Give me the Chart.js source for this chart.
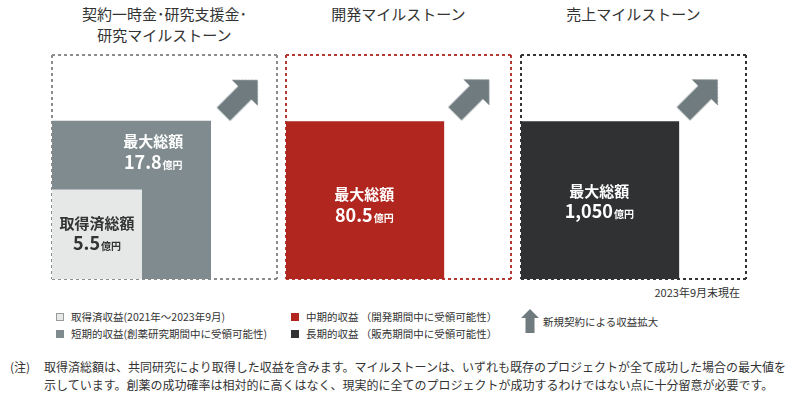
<!DOCTYPE html>
<html lang="ja">
<head>
<meta charset="utf-8">
<title>マイルストーン</title>
<script src="https://cdn.jsdelivr.net/npm/chart.js@4.4.1/dist/chart.umd.min.js"></script>
<style>
    body {
        margin: 0;
        width: 800px;
        height: 408px;
        position: relative;
        overflow: hidden;
        background: #fff;
        color: #333;
        font-family: "Noto Sans CJK JP", "Noto Sans", sans-serif;
    }
    .title {
        position: absolute;
        top: 4px;
        width: 260px;
        text-align: center;
        font-size: 15px;
        line-height: 20.5px;
    }
    .panel {
        position: absolute;
        top: 53px;
        width: 229px;
        height: 228px;
    }
    .asof {
        position: absolute;
        top: 285px;
        right: 60px;
        font-size: 11px;
        line-height: 14px;
    }
    .legend {
        position: absolute;
        font-size: 10.5px;
        line-height: 17px;
    }
    .legend .row { display: flex; align-items: center; white-space: nowrap; }
    .legend .sw { width: 8px; height: 8px; margin-right: 7px; box-sizing: border-box; }
    .note {
        position: absolute;
        left: 10px;
        top: 358px;
        font-size: 12px;
        line-height: 17.6px;
    }
    .note .mark { position: absolute; left: 0; top: 0; }
    .note .body { margin-left: 34px; width: 750px; }
</style>
</head>
<body>
<div id="titles"></div>
<div id="panels"></div>
<div class="asof" id="asof"></div>
<div id="legend"></div>
<div class="note">
    <span class="mark">(注)</span>
    <div class="body" id="note"></div>
</div>

<script>
// Data
const panelTitles = [
    ['契約一時金･研究支援金･', '研究マイルストーン'],
    ['開発マイルストーン'],
    ['売上マイルストーン']
];
const squareNames = ['最大総額', '取得済総額', '最大総額', '最大総額'];
const squareAmounts = ['17.8', '5.5', '80.5', '1,050'];
const squareUnit = '億円';
const squarePanel = [0, 0, 1, 2];
// side of each square as a share of its dashed frame (%), measured on the picture
const squareSides = [70.7, 40, 70.4, 70.4];
const legendLabels = [
    '取得済収益(2021年～2023年9月)',
    '短期的収益(創薬研究期間中に受領可能性)',
    '中期的収益 （開発期間中に受領可能性）',
    '長期的収益 （販売期間中に受領可能性）'
];
const arrowLabel = '新規契約による収益拡大';
const asOfLabel = '2023年9月末現在';
const noteText = '取得済総額は、共同研究により取得した収益を含みます。マイルストーンは、いずれも既存のプロジェクトが全て成功した場合の最大値を示しています。創薬の成功確率は相対的に高くはなく、現実的に全てのプロジェクトが成功するわけではない点に十分留意が必要です。';

// Styling / layout
const squareColors = ['#7f8b8e', '#e6e8e8', '#b1271f', '#2f3133'];
const squareTextColors = ['#fff', '#333', '#fff', '#fff'];
const legendColors = ['#e6e8e8', '#7f8b8e', '#b1271f', '#2f3133'];
const frameColors = ['#8c8c8c', '#b23a33', '#333333'];
const panelLeft = [50, 284, 519];
const arrowColor = '#6f7b7e';
// label anchor inside each square, in frame units
const labelAnchor = [[45, 56.6], [20, 20.3], [34.8, 33], [34.8, 34.6]];
// arrow centre inside each frame
const arrowSpot = [[83.8, 81.2], [82.7, 81.4], [79.8, 81.4]];

document.addEventListener('DOMContentLoaded', () => {
    buildText();
    buildLegend();
    const arrow = makeArrow(arrowColor);
    panelTitles.forEach((t, i) => buildPanel(i, arrow));
});

function buildText() {
    const titles = document.getElementById('titles');
    panelTitles.forEach((lines, i) => {
        const div = document.createElement('div');
        div.className = 'title';
        div.style.left = (panelLeft[i] + 2 + 112.5 - 130) + 'px';
        div.innerHTML = lines.join('<br>');
        titles.appendChild(div);
    });
    document.getElementById('asof').textContent = asOfLabel;
    document.getElementById('note').textContent = noteText;
}

function buildLegend() {
    const legend = document.getElementById('legend');
    const cols = [[0, 1], [2, 3]];
    const colLeft = [56, 291];
    cols.forEach((idx, c) => {
        const col = document.createElement('div');
        col.className = 'legend';
        col.style.left = colLeft[c] + 'px';
        col.style.top = '308px';
        col.innerHTML = idx.map(i => `
            <div class="row">
                <span class="sw" style="background:${legendColors[i]};${i === 0 ? 'border:1px solid #9a9a9a;' : ''}"></span>
                <span>${legendLabels[i]}</span>
            </div>`).join('');
        legend.appendChild(col);
    });
    const item = document.createElement('div');
    item.className = 'legend';
    item.style.left = '521px';
    item.style.top = '309px';
    item.innerHTML = `
        <div class="row">
            <svg width="18" height="24" viewBox="0 0 18 24" style="margin-right:4px">
                <polygon points="9,0 18,9 13.5,9 13.5,24 4.5,24 4.5,9 0,9" fill="${arrowColor}"/>
            </svg>
            <span>${arrowLabel}</span>
        </div>`;
    legend.appendChild(item);
}

function makeArrow(color) {
    const c = document.createElement('canvas');
    c.width = 38;
    c.height = 50;
    const g = c.getContext('2d');
    g.fillStyle = color;
    g.beginPath();
    g.moveTo(19, 0.7);
    g.lineTo(37.4, 19.1);
    g.lineTo(28.4, 19.1);
    g.lineTo(28.4, 49.3);
    g.lineTo(9.6, 49.3);
    g.lineTo(9.6, 19.1);
    g.lineTo(0.6, 19.1);
    g.closePath();
    g.fill();
    return c;
}

// the dashed frame is the grid line at each end of the axis
function frameAxis(axis, color) {
    return {
        type: 'linear',
        axis,
        min: 0,
        max: 100,
        ticks: { display: false, stepSize: 100 },
        grid: { display: true, drawTicks: false, color, lineWidth: 2 },
        border: { display: false, dash: [3, 3] }
    };
}

// writes the name and amount in the middle of a square
const squareCaption = {
    id: 'squareCaption',
    afterDatasetsDraw(chart) {
        const { ctx, scales: { x, y } } = chart;
        chart.data.datasets.forEach(ds => {
            if (ds.caption === undefined) return;
            const i = ds.caption;
            const cx = x.getPixelForValue(labelAnchor[i][0]);
            const cy = y.getPixelForValue(labelAnchor[i][1]);
            ctx.save();
            ctx.fillStyle = squareTextColors[i];
            ctx.textAlign = 'center';
            ctx.textBaseline = 'middle';
            ctx.font = 'bold 15px "Noto Sans CJK JP"';
            ctx.fillText(squareNames[i], cx, cy - 10.5);

            const bigFont = 'bold 18px "Noto Sans CJK JP"';
            const smallFont = 'bold 10px "Noto Sans CJK JP"';
            ctx.font = bigFont;
            const w1 = ctx.measureText(squareAmounts[i]).width;
            ctx.font = smallFont;
            const w2 = ctx.measureText(squareUnit).width;
            const left = cx - (w1 + w2 + 1) / 2;
            ctx.textAlign = 'left';
            ctx.textBaseline = 'alphabetic';
            ctx.font = bigFont;
            ctx.fillText(squareAmounts[i], left, cy + 16.5);
            ctx.font = smallFont;
            ctx.fillText(squareUnit, left + w1 + 1, cy + 16.5);
            ctx.restore();
        });
    }
};

function buildPanel(p, arrow) {
    const wrap = document.createElement('div');
    wrap.className = 'panel';
    wrap.style.left = panelLeft[p] + 'px';
    const canvas = document.createElement('canvas');
    wrap.appendChild(canvas);
    document.getElementById('panels').appendChild(wrap);

    const datasets = [];
    squarePanel.forEach((panel, i) => {
        if (panel !== p) return;
        const side = squareSides[i];
        datasets.push({
            type: 'line',
            data: [{ x: 0, y: side }, { x: side, y: side }],
            borderWidth: 0,
            pointRadius: 0,
            fill: 'origin',
            backgroundColor: squareColors[i],
            order: side,
            caption: i
        });
    });
    datasets.push({
        type: 'scatter',
        data: [{ x: arrowSpot[p][0], y: arrowSpot[p][1] }],
        pointStyle: arrow,
        rotation: 45,
        pointRadius: 1,
        order: 0
    });

    new Chart(canvas, {
        type: 'line',
        data: { datasets },
        options: {
            responsive: true,
            maintainAspectRatio: false,
            animation: false,
            layout: { padding: 2, autoPadding: false },
            plugins: {
                legend: { display: false },
                tooltip: { enabled: false }
            },
            scales: {
                x: frameAxis('x', frameColors[p]),
                y: frameAxis('y', frameColors[p])
            }
        },
        plugins: [squareCaption]
    });
}
</script>
</body>
</html>
